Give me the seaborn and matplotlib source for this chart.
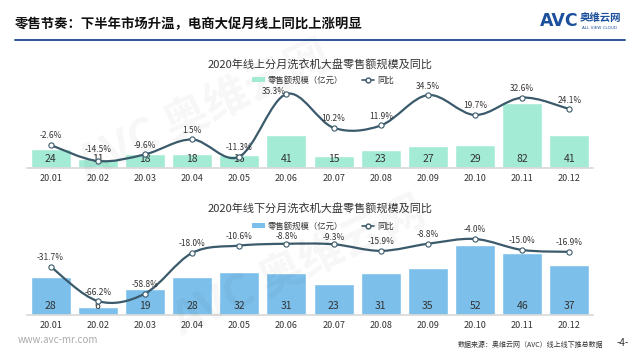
import numpy as np
import matplotlib
matplotlib.use('Agg')
import matplotlib.pyplot as plt
import seaborn as sns
from matplotlib.path import Path
from matplotlib.patches import PathPatch, Patch
from matplotlib.lines import Line2D

# data
months = ['20.01', '20.02', '20.03', '20.04', '20.05', '20.06',
          '20.07', '20.08', '20.09', '20.10', '20.11', '20.12']
online_sales = [24, 11, 18, 18, 16, 41, 15, 23, 27, 29, 82, 41]
online_yoy = [-2.6, -14.5, -9.6, 1.5, -11.3, 35.3, 10.2, 11.9, 34.5, 19.7, 32.6, 24.1]
offline_sales = [28, 6, 19, 28, 32, 31, 23, 31, 35, 52, 46, 37]
offline_yoy = [-31.7, -66.2, -58.8, -18.0, -10.6, -8.8, -9.3, -15.9, -8.8, -4.0, -15.0, -16.9]

page_title = '零售节奏：下半年市场升温，电商大促月线上同比上涨明显'
online_title = '2020年线上分月洗衣机大盘零售额规模及同比'
offline_title = '2020年线下分月洗衣机大盘零售额规模及同比'
bar_label = '零售额规模（亿元）'
line_label = '同比'

sns.set_theme(style='white')
plt.rcParams['font.family'] = ['Noto Sans CJK SC', 'DejaVu Sans']

MINT = '#a4ebd5'
BLUE = '#7bbfea'
LINE = '#3b5a6b'
TXT = '#333333'


def smooth_path(xs, ys):
    # cubic bezier through the points (Catmull-Rom style control points)
    pts = np.column_stack([xs, ys]).astype(float)
    verts = [pts[0]]
    codes = [Path.MOVETO]
    n = len(pts)
    for i in range(n - 1):
        p0 = pts[max(i - 1, 0)]
        p1 = pts[i]
        p2 = pts[i + 1]
        p3 = pts[min(i + 2, n - 1)]
        c1 = p1 + (p2 - p0) / 6
        c2 = p2 - (p3 - p1) / 6
        verts += [c1, c2, p2]
        codes += [Path.CURVE4] * 3
    return Path(verts, codes)


def draw_panel(rect, sales, yoy, color, bar_ylim, line_ylim, title, title_y, legend_y,
               label_shift=None):
    label_shift = label_shift or {}
    ax = fig.add_axes(rect)
    sns.barplot(x=months, y=sales, color=color, saturation=1, width=0.85, ax=ax)
    ax.set_ylim(*bar_ylim)
    ax.set_xlim(-0.5, len(months) - 0.5)
    ax.set_yticks([])
    ax.set_ylabel('')
    for s in ['top', 'right', 'left']:
        ax.spines[s].set_visible(False)
    ax.spines['bottom'].set_color('#d9d9d9')
    ax.tick_params(axis='x', length=0, pad=4, labelsize=6.5, labelcolor=TXT)
    for i, v in enumerate(sales):
        ax.annotate(str(v), xy=(i, 0), xytext=(0, 9), textcoords='offset pixels',
                    ha='center', va='center', fontsize=7.5, color=TXT)

    ax2 = ax.twinx()
    ax2.set_ylim(*line_ylim)
    ax2.set_yticks([])
    for s in ax2.spines.values():
        s.set_visible(False)
    ax2.add_patch(PathPatch(smooth_path(range(len(yoy)), yoy), fill=False,
                            ec=LINE, lw=1.6, zorder=3))
    ax2.scatter(range(len(yoy)), yoy, s=14, facecolor='white', edgecolor=LINE,
                linewidth=0.8, zorder=4)
    for i, v in enumerate(yoy):
        off = label_shift.get(i, (0, 9))
        ax2.annotate(f'{v:.1f}%', xy=(i, v), xytext=off, textcoords='offset pixels',
                     ha='center', va='center', fontsize=6, color=TXT)

    fig.text(0.5, title_y, title, ha='center', va='center', fontsize=8, color=TXT)
    handles = [Patch(facecolor=color, edgecolor='none', label=bar_label),
               Line2D([0], [0], color=LINE, lw=1.2, marker='o', markersize=3.5,
                      markerfacecolor='white', label=line_label)]
    fig.legend(handles=handles, loc='center', bbox_to_anchor=(0.505, legend_y), ncol=2,
               frameon=False, fontsize=6, handlelength=1.5, handleheight=0.5,
               columnspacing=2.2, handletextpad=0.4, labelcolor=TXT,
               borderpad=0, borderaxespad=0)


fig = plt.figure(figsize=(6.4, 3.6), dpi=100)

# faint watermarks
for wx, wy in [(205 / 640, 1 - 112 / 360), (300 / 640, 1 - 268 / 360)]:
    fig.text(wx, wy, 'AVC 奥维云网', fontsize=32, fontweight='bold', color='#000000',
             alpha=0.035, rotation=25, ha='center', va='center')

draw_panel([27 / 640, 1 - 168 / 360, 566 / 640, 83 / 360], online_sales, online_yoy, MINT,
           (0, 104), (-19.7, 42.0), online_title, 1 - 64 / 360, 1 - 80 / 360,
           label_shift={1: (0, 12), 5: (-13, 3)})
draw_panel([27 / 640, 1 - 315 / 360, 566 / 640, 83 / 360], offline_sales, offline_yoy, BLUE,
           (0, 61.5), (-80.2, 3.0), offline_title, 1 - 208 / 360, 1 - 226 / 360,
           label_shift={5: (0, 7), 6: (0, 7)})

# header
fig.text(15 / 640, 1 - 24 / 360, page_title, fontsize=9.6, fontweight='bold',
         color='#111111', ha='left', va='center')
fig.add_artist(Line2D([15 / 640, 625 / 640], [1 - 40 / 360, 1 - 40 / 360],
                      color='#2e5597', lw=1.4))
fig.text(540 / 640, 1 - 21 / 360, 'AVC', fontsize=12.5, fontweight='bold',
         color='#1c4f9c', ha='left', va='center', family='DejaVu Sans')
fig.text(580 / 640, 1 - 18 / 360, '奥维云网', fontsize=7.5, fontweight='bold',
         color='#1c4f9c', ha='left', va='center')
fig.text(599 / 640, 1 - 28 / 360, 'ALL VIEW CLOUD', fontsize=3, color='#1c4f9c',
         ha='center', va='center', family='DejaVu Sans')

# footer
fig.text(18 / 640, 1 - 340 / 360, 'www.avc-mr.com', fontsize=7, color='#aaaaaa',
         ha='left', va='center')
fig.text(531 / 640, 1 - 345 / 360, '数据来源：奥维云网（AVC）线上线下推总数据', fontsize=5,
         color=TXT, ha='center', va='center')
fig.text(623 / 640, 1 - 343 / 360, '-4-', fontsize=7, color=TXT, ha='center', va='center')

fig.savefig('out.png', dpi=100)
